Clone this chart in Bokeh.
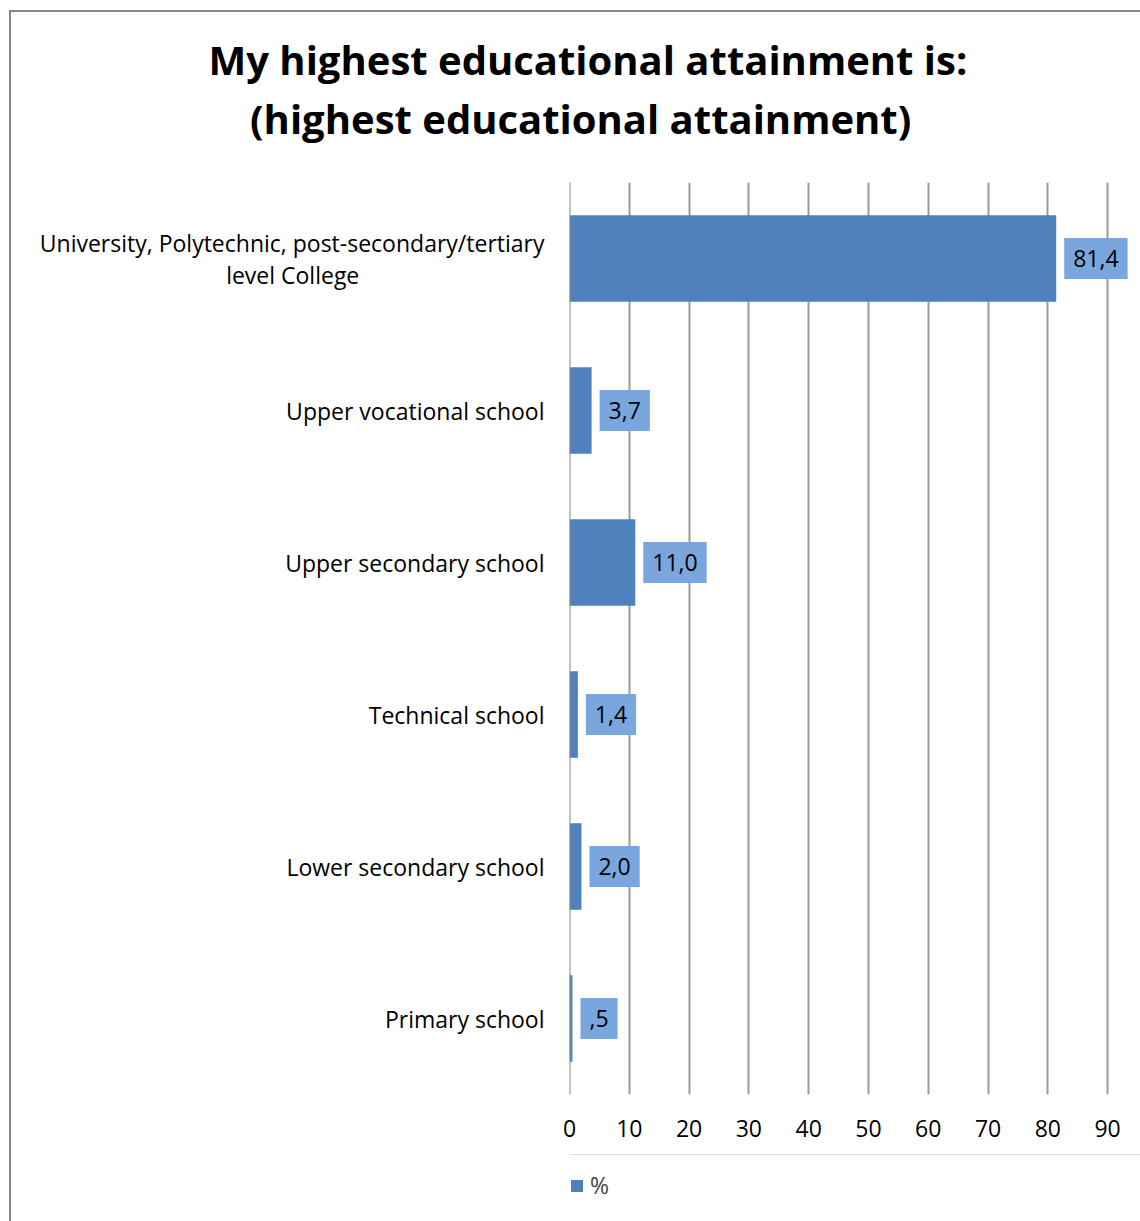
from bokeh.plotting import figure
from bokeh.layouts import column
from bokeh.models import (Range1d, FactorRange, FixedTicker, Span, Legend, LegendItem,
                          Title, ColumnDataSource)
from bokeh.core.properties import value
from bokeh.embed import file_html
from bokeh.resources import INLINE

NB = "\u00a0"

# ---- data ----
categories = [
    "University, Polytechnic, post-secondary/tertiary\nlevel College" + NB * 31,
    "Upper vocational school",
    "Upper secondary school",
    "Technical school",
    "Lower secondary school",
    "Primary school",
]
percent = [81.4, 3.7, 11.0, 1.4, 2.0, 0.5]
x_ticks = [0, 10, 20, 30, 40, 50, 60, 70, 80, 90]
title_lines = ["My highest educational attainment is:",
               NB * 4 + "(highest educational attainment)"]
series_name = "%"


def fmt(v):
    s = f"{v:.1f}".replace(".", ",")
    return s[1:] if s.startswith("0,") else s


labels = [fmt(v) for v in percent]

FONT = "Open Sans"
BAR = "#4f81bd"
LBL = "#7aa6de"

src = ColumnDataSource(dict(cat=categories, val=percent, lab=labels))

p = figure(
    y_range=FactorRange(factors=categories[::-1]),
    x_range=Range1d(0, 95.5),
    width=1129, height=1142,
    frame_width=571, frame_height=912,
    output_backend="svg", toolbar_location=None,
    min_border_left=558, min_border_right=0,
    min_border_top=170, min_border_bottom=60,
)
p.outline_line_color = None
p.background_fill_color = "white"
p.border_fill_color = "white"

r = p.hbar(y="cat", right="val", left=0, height=0.57, source=src,
           fill_color=BAR, line_color=None)

p.text(x="val", y="cat", text="lab", source=src, x_offset=8,
       text_align="left", text_baseline="middle",
       text_font=value(FONT), text_font_size="23px", text_color="black",
       background_fill_color=LBL, padding=dict(left=9, right=9, top=12, bottom=12))

# gridlines
p.ygrid.visible = False
p.xgrid.ticker = FixedTicker(ticks=x_ticks)
p.xgrid.grid_line_color = "#9a9a9a"
p.xgrid.grid_line_width = 2
p.add_layout(Span(location=0, dimension="height", line_color="#868686", line_width=2))

# axes
xa = p.xaxis[0]
xa.ticker = FixedTicker(ticks=x_ticks)
xa.axis_line_color = None
xa.major_tick_line_color = None
xa.minor_tick_line_color = None
xa.major_tick_out = 0
xa.major_tick_in = 0
xa.major_label_standoff = 25
xa.major_label_text_font = FONT
xa.major_label_text_font_size = "23px"
xa.major_label_text_color = "black"

ya = p.yaxis[0]
ya.axis_line_color = None
ya.major_tick_line_color = None
ya.minor_tick_line_color = None
ya.major_tick_out = 0
ya.major_tick_in = 0
ya.major_label_standoff = 25
ya.major_label_text_font = FONT
ya.major_label_text_font_size = "23px"
ya.major_label_text_color = "black"
ya.major_label_text_line_height = 1.0

p.title = Title(text="\n".join(title_lines), align="left", offset=-361,
                text_font=FONT, text_font_size="40px",
                text_font_style="bold", text_line_height=1.074, text_color="black",
                standoff=0, padding=dict(left=0, right=0, top=0, bottom=36))

# ---- legend strip under the chart (its frame aligns with the chart frame) ----
lf = figure(width=1129, height=67, x_range=Range1d(0, 1), y_range=Range1d(0, 1),
            output_backend="svg", toolbar_location=None,
            x_axis_location=None, y_axis_location=None, min_border=0)
lf.grid.visible = False
lf.outline_line_color = None
lf.background_fill_color = "white"
lf.border_fill_color = "white"
# key renderer: one bar placed outside the strip's visible range, so only the
# legend swatch is shown
key = lf.hbar(y=[5], right=[percent[0]], left=0, height=0.5,
              fill_color=BAR, line_color=None)
legend = Legend(items=[LegendItem(label=series_name, renderers=[key])],
                location=(0, 20), orientation="horizontal",
                glyph_width=15, glyph_height=15, label_standoff=6,
                label_text_font=FONT, label_text_font_size="23px",
                border_line_color=None, background_fill_alpha=0,
                padding=0, margin=0)
lf.add_layout(legend, "center")

layout = column(p, lf, spacing=0)
layout.margin = (10, 0, 0, 9)
layout.styles = {"border-left": "2px solid #868686", "border-top": "2px solid #868686"}

open("out.html", "w").write(file_html(layout, INLINE))
